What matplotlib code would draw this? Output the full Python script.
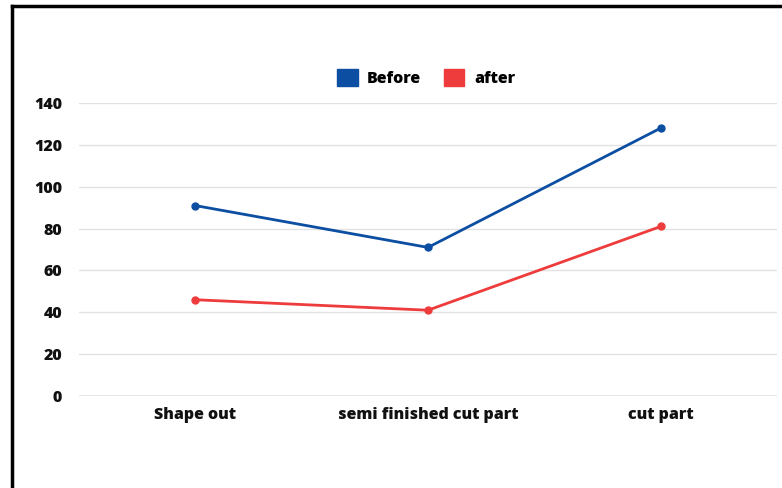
import matplotlib.pyplot as plt
from matplotlib.lines import Line2D
from matplotlib.patches import Patch

plt.rcParams['font.family'] = ['Open Sans', 'DejaVu Sans']

categories = ['Shape out', 'semi finished cut part', 'cut part']
before = [91, 71, 128]
after = [46, 41, 81]
y_ticks = [0, 20, 40, 60, 80, 100, 120, 140]

blue = '#0b4ea2'
red = '#ee3b3b'

fig = plt.figure(figsize=(7.82, 4.88), dpi=100)
ax = fig.add_axes([0.101, 0.1885, 0.8926, 0.6004])

x = range(len(categories))
ax.plot(x, before, color=blue, lw=2, marker='o', ms=5, zorder=3)
ax.plot(x, after, color=red, lw=2, marker='o', ms=5, zorder=3)

ax.set_xlim(-0.5, len(categories) - 0.5)
ax.set_ylim(0, 140)
ax.set_yticks(y_ticks)
ax.set_xticks(list(x))
ax.set_xticklabels(categories)
ax.grid(axis='y', color='#e2e2e2', lw=1)
ax.axhline(0, color='#9a9a9a', lw=1)
for s in ax.spines.values():
    s.set_visible(False)
ax.tick_params(length=0)
ax.tick_params(axis='y', pad=12)
ax.tick_params(axis='x', pad=8)
for lbl in ax.get_xticklabels() + ax.get_yticklabels():
    lbl.set_fontweight(800)
    lbl.set_fontsize(11.5)
    lbl.set_color('#111111')

handles = [Patch(color=blue), Patch(color=red)]
leg = ax.legend(handles, ['Before', 'after'], loc='center', ncol=2,
                bbox_to_anchor=(0.497, 1.085), frameon=False,
                prop={'weight': 800, 'size': 11.5},
                handlelength=1.3, handleheight=1.3, handletextpad=0.6,
                columnspacing=1.4)

# outer frame (left and top edges)
fig.add_artist(Line2D([12 / 782, 12 / 782], [0, 1 - 6 / 488], color='black', lw=2.5))
fig.add_artist(Line2D([12 / 782, 1], [1 - 6 / 488, 1 - 6 / 488], color='black', lw=2.5))

fig.savefig('out.png', dpi=100)
